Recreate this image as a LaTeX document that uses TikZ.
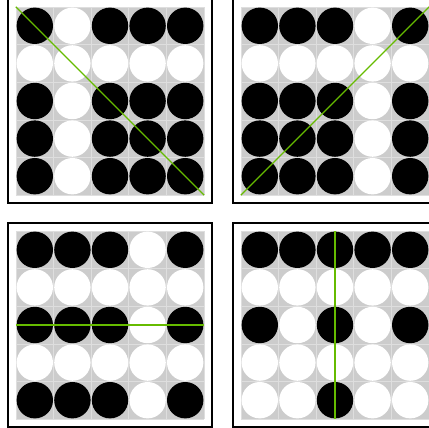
\documentclass[tikz,border=0pt]{standalone}
\usepackage{xcolor}
\usepackage{tikz}

\definecolor{boardgray}{RGB}{204,204,204}
\definecolor{gridgray}{RGB}{222,222,222}
\definecolor{cutgreen}{RGB}{102,187,0}

\begin{document}
\begin{tikzpicture}[
  x=1pt, y=1pt,
  frame/.style={rectangle, draw=black, line width=2.5pt, fill=white, minimum size=204pt, inner sep=0pt},
  board/.style={rectangle, fill=boardgray, minimum size=188pt, inner sep=0pt},
  lines/.style={gridgray, line width=0.6pt, step=37.6},
  stone/.style={circle, minimum size=36.4pt, inner sep=0pt},
  cut/.style={cutgreen, line width=1.4pt}
]
\useasboundingbox (0,0) rectangle (429,428);

% top left: diagonal
\node[frame] (f1) at (110,327) {};
\node[board] (b1) at (110,327) {};
\draw[lines, shift={(b1.south west)}] (0,0) grid (188.1,188.1);
\foreach \row [count=\r] in {{black,white,black,black,black},{white,white,white,white,white},{black,white,black,black,black},{black,white,black,black,black},{black,white,black,black,black}}
  \foreach \tone [count=\c] in \row
    \node[stone, fill=\tone] (s1-\r-\c) at ([shift={(\c*37.6-112.8,112.8-\r*37.6)}]b1) {};
\draw[cut] (b1.north west) -- (b1.south east);

% top right: anti-diagonal
\node[frame] (f2) at (335,327) {};
\node[board] (b2) at (335,327) {};
\draw[lines, shift={(b2.south west)}] (0,0) grid (188.1,188.1);
\foreach \row [count=\r] in {{black,black,black,white,black},{white,white,white,white,white},{black,black,black,white,black},{black,black,black,white,black},{black,black,black,white,black}}
  \foreach \tone [count=\c] in \row
    \node[stone, fill=\tone] (s2-\r-\c) at ([shift={(\c*37.6-112.8,112.8-\r*37.6)}]b2) {};
\draw[cut] (b2.south west) -- (b2.north east);

% bottom left: row
\node[frame] (f3) at (110,103) {};
\node[board] (b3) at (110,103) {};
\draw[lines, shift={(b3.south west)}] (0,0) grid (188.1,188.1);
\foreach \row [count=\r] in {{black,black,black,white,black},{white,white,white,white,white},{black,black,black,white,black},{white,white,white,white,white},{black,black,black,white,black}}
  \foreach \tone [count=\c] in \row
    \node[stone, fill=\tone] (s3-\r-\c) at ([shift={(\c*37.6-112.8,112.8-\r*37.6)}]b3) {};
\draw[cut] (b3.west) -- (b3.east);

% bottom right: column
\node[frame] (f4) at (335,103) {};
\node[board] (b4) at (335,103) {};
\draw[lines, shift={(b4.south west)}] (0,0) grid (188.1,188.1);
\foreach \row [count=\r] in {{black,black,black,black,black},{white,white,white,white,white},{black,white,black,white,black},{white,white,white,white,white},{white,white,black,white,white}}
  \foreach \tone [count=\c] in \row
    \node[stone, fill=\tone] (s4-\r-\c) at ([shift={(\c*37.6-112.8,112.8-\r*37.6)}]b4) {};
\draw[cut] (b4.north) -- (b4.south);
\end{tikzpicture}
\end{document}
